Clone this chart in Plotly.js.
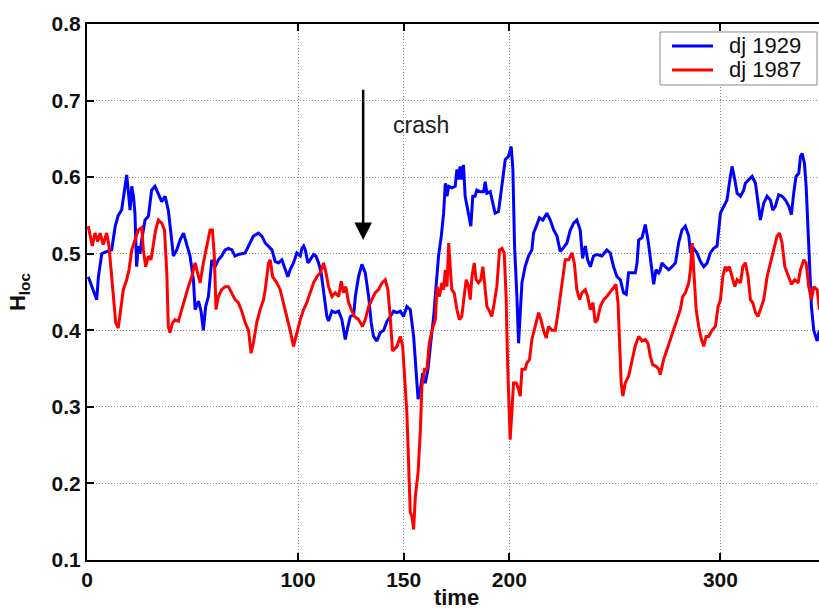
<!DOCTYPE html>
<html>
<head>
<meta charset="utf-8">
<script src="https://cdn.plot.ly/plotly-3.0.1.min.js"></script>
<style>
  html, body { margin: 0; padding: 0; background: #fff; overflow: hidden; }
  #chart { width: 830px; height: 610px; }
</style>
</head>
<body>
<div id="chart"></div>
<script>
// Local Hurst exponent of the Dow Jones index around the 1929 and 1987 crashes
const time1929 = [
  0.6, 4.6, 5.4, 7, 8.5, 11.7, 13.3, 14.8, 16.4, 17.2, 18.8, 19.6, 20.4, 21.2, 22, 22.7, 23.5, 24.3, 25.1, 25.9,
  27.5, 29.1, 30.6, 32.2, 33.8, 35.4, 37, 38.5, 40.1, 40.9, 42.5, 44.1, 45.7, 47.2, 48.8, 50.4, 51.2, 52.8, 54, 55.1,
  56.2, 57.5, 59.1, 60.7, 62.2, 63.8, 65.4, 67, 68.6, 70.1, 71.7, 74.9, 77.3, 78.8, 81.2, 82.8,
  84.4, 86, 87.6, 89.1, 90.7, 92.3, 93.9, 95.1, 96.2, 97.8, 99.4, 101, 101.8, 102.6, 103.4, 104.6, 105.7, 107.3, 108.4, 109.7,
  110.9, 112, 113.6, 114.4, 116, 117.6, 119.2, 120.7, 122.3, 123.6, 124.7, 126.3, 127.1, 128.6, 130.2, 131.8, 133.4, 134.6, 135.7, 137.3,
  138.9, 140.5, 142.1, 143.6, 145.2, 146.8, 148.4, 149.9, 151.5, 153.1, 154.7, 155.8, 156.8, 157.9, 159, 160.2, 161.5, 162.6, 164.2, 165.3,
  166.5, 167.8, 168.9, 169.7, 170.5, 171.3,
  172.8, 174.4, 175.2, 175.9, 176.7, 177.5, 178.3, 179.1, 180.7, 181.8, 182.7, 183.8, 184.6, 186.2, 187.8, 188.6, 189.4, 191, 192.2, 193.3,
  194.9, 196.5, 198.1, 199.6, 200.9, 201.7, 202.5, 203.6, 204.4, 205.2, 206, 207.5, 209.1, 210.7, 211.5, 212.8, 214.3, 215.9, 217.8, 219.4,
  221, 222.6, 224.1, 225.7, 227.3, 228.9, 230.5, 232, 233.6, 234.7, 236, 237.1, 238.4, 239.9, 241.5, 243.9, 246.2, 247.8, 249.4, 251,
  252.6, 254.1, 255.4, 256.5, 258.1,
  259.7, 260.5, 261.3, 262.9, 264.4, 265.7, 266.8, 268.4, 269.5, 270.8, 271.5, 272.3, 273.9, 275.5, 277.1, 278.7, 280.2, 281.8, 283.4, 285,
  285.8, 287.3, 288.9, 290.5, 292.1, 293.7, 295.2, 296.8, 298.4, 300, 301.6, 303.1, 304.7, 305.5, 306.8, 307.9, 309.5, 311, 311.8, 313.4,
  315, 316.6, 318.1, 318.9, 320.5, 322.1, 323.7, 324.8, 326, 327.6, 329.2, 330.8, 332.4, 333.6, 334.7, 335.8, 337.1, 337.9, 338.7, 339.8,
  340.6, 341.4, 342.2, 343.1, 344.2, 345.8, 346.9
];
const hloc1929 = [
  0.470, 0.440, 0.470, 0.500, 0.502, 0.505, 0.535, 0.550, 0.557, 0.575, 0.603, 0.580, 0.557, 0.588, 0.575, 0.553, 0.483, 0.510, 0.500, 0.518,
  0.544, 0.549, 0.583, 0.588, 0.579, 0.568, 0.575, 0.557, 0.518, 0.497, 0.505, 0.518, 0.527, 0.514, 0.497, 0.466, 0.427, 0.438, 0.425, 0.400,
  0.431, 0.444, 0.492, 0.483, 0.492, 0.497, 0.505, 0.507, 0.505, 0.497, 0.499, 0.501, 0.516, 0.523, 0.527, 0.523,
  0.514, 0.510, 0.505, 0.490, 0.488, 0.492, 0.479, 0.470, 0.479, 0.488, 0.501, 0.497, 0.507, 0.510, 0.505, 0.488, 0.492, 0.499, 0.497, 0.488,
  0.475, 0.449, 0.418, 0.412, 0.425, 0.423, 0.425, 0.414, 0.388, 0.405, 0.418, 0.420, 0.444, 0.470, 0.486, 0.475, 0.444, 0.410, 0.392, 0.386,
  0.397, 0.400, 0.412, 0.418, 0.425, 0.423, 0.425, 0.418, 0.431, 0.427, 0.392, 0.349, 0.310, 0.323, 0.344, 0.331, 0.349, 0.379, 0.418, 0.457,
  0.497, 0.523, 0.553, 0.592, 0.575, 0.588,
  0.586, 0.588, 0.610, 0.597, 0.614, 0.597, 0.616, 0.575, 0.553, 0.536, 0.575, 0.575, 0.583, 0.581, 0.581, 0.594, 0.579, 0.581, 0.566, 0.553,
  0.555, 0.592, 0.623, 0.627, 0.640, 0.610, 0.510, 0.444, 0.383, 0.423, 0.462, 0.483, 0.497, 0.505, 0.527, 0.536, 0.547, 0.544, 0.553, 0.544,
  0.531, 0.523, 0.503, 0.508, 0.514, 0.531, 0.540, 0.544, 0.531, 0.494, 0.510, 0.492, 0.483, 0.497, 0.499, 0.497, 0.505, 0.501, 0.483, 0.470,
  0.466, 0.449, 0.447, 0.475, 0.475,
  0.475, 0.488, 0.518, 0.521, 0.538, 0.518, 0.492, 0.460, 0.479, 0.475, 0.479, 0.488, 0.483, 0.479, 0.483, 0.488, 0.514, 0.531, 0.536, 0.523,
  0.501, 0.507, 0.501, 0.490, 0.483, 0.488, 0.501, 0.507, 0.510, 0.553, 0.562, 0.570, 0.601, 0.614, 0.597, 0.579, 0.575, 0.583, 0.592, 0.597,
  0.601, 0.592, 0.557, 0.544, 0.566, 0.575, 0.570, 0.557, 0.562, 0.577, 0.575, 0.570, 0.562, 0.551, 0.579, 0.601, 0.605, 0.627, 0.631, 0.618,
  0.588, 0.531, 0.475, 0.431, 0.400, 0.386, 0.400
];

const time1987 = [
  0.6, 1.4, 2.5, 3.8, 5.1, 6.2, 7.7, 9.3, 10.4, 11.4, 12.5, 13.6, 14.8, 16.1, 17.2, 18.8, 19.9, 21.2, 22.7, 24.3,
  25.9, 26.7, 27.8, 29.1, 30.3, 31.4, 32.5, 33.8, 35.4, 36.7, 37.8, 38.5, 39.3, 40.4, 41.7, 43.3, 44.9, 46.4, 48, 49.6,
  51.2, 52.8, 53.6, 55.1, 56.7, 58.3, 59.4, 60.3, 61.1, 62.2, 63.8, 65.4, 67, 68.6, 70.1, 71.7, 73.3, 74.9, 76.5, 77.7,
  78.8, 80.4, 82, 83.6,
  84.4, 86, 86.8, 87.9, 89.9, 91.5, 93.1, 94.7, 96.2, 97.8, 99.4, 101, 102.6, 104.1, 105.7, 107.3, 108.9, 110.5, 112, 113.2,
  114.4, 116, 117.6, 119.2, 120.4, 121.5, 122.6, 123.9, 125.2, 126.7, 128.6, 130.5, 131.8, 133.4, 134.9, 136.5, 138.1, 139.7, 141.3, 142.5,
  143.6, 144.7, 146.8, 148.4, 149.5, 150.4, 151.5, 152.3, 153.1, 153.9, 154.7, 155.5, 156.8, 157.9, 158.6, 159.9, 161, 162.1, 163.4, 165,
  165.8, 166.9, 168.1, 168.9, 169.7, 170.5, 171.3, 172.1, 172.8,
  173.9, 175.2, 176.4, 177.5, 178.6, 179.6, 180.7, 181.5, 182.3, 183.4, 184.3, 185.4, 186.5, 187.5, 188.6, 189.4, 190.6, 191.7, 192.9, 194.1,
  195.4, 196.5, 197.6, 198.5, 199.2, 199.8, 200.4, 201.2, 202, 203.3, 204.4, 205.2, 206, 207.5, 208.3, 209.6, 210.7, 211.8, 213.1, 213.9,
  215, 216.2, 217.5, 218.6, 220.2, 221.8, 223.3, 224.9, 226.5, 228.1, 229.7, 230.8, 232, 233.3, 234.4, 236, 237.1, 238.4, 239.6, 240.7,
  241.8, 243.1, 244.7, 246.2, 247.5, 249.1, 250.5, 251.5, 252.3, 253, 253.8, 254.9, 256.5, 258.1,
  259.7, 261.3, 262.9, 264.4, 265.7, 266.8, 267.9, 269.5, 270.8, 271.5, 273.1, 274.7, 276.3, 277.9, 279.4, 281, 282.1, 283.4, 285, 285.8,
  286.6, 287.3, 288.5, 289.7, 291, 292.1, 293.2, 294.5, 296, 297.6, 298.9, 300, 301.1, 302.3, 303.1, 304.2, 305.5, 306.8, 307.9, 309.5,
  310.6, 311.8, 313.1, 314.2, 315.3, 316.6, 317.8, 318.9, 320.5, 322.1, 323.7, 325.3, 326.8, 328, 329.2, 330.5, 332.1, 333.6, 335.2, 336.8,
  337.9, 339.5, 340.6, 341.8, 343.1, 344.2, 345.8, 346.9
];
const hloc1987 = [
  0.536, 0.523, 0.510, 0.527, 0.516, 0.527, 0.512, 0.527, 0.510, 0.479, 0.440, 0.410, 0.403, 0.427, 0.453, 0.466, 0.479, 0.505, 0.518, 0.531,
  0.534, 0.505, 0.483, 0.497, 0.492, 0.514, 0.531, 0.544, 0.540, 0.531, 0.475, 0.405, 0.397, 0.409, 0.414, 0.412, 0.427, 0.444, 0.457, 0.470,
  0.488, 0.470, 0.462, 0.488, 0.510, 0.531, 0.531, 0.497, 0.427, 0.444, 0.453, 0.457, 0.457, 0.449, 0.440, 0.436, 0.425, 0.410, 0.400, 0.370,
  0.383, 0.410, 0.427, 0.440,
  0.453, 0.488, 0.492, 0.470, 0.462, 0.453, 0.436, 0.418, 0.400, 0.379, 0.397, 0.414, 0.427, 0.436, 0.449, 0.462, 0.470, 0.475, 0.488, 0.475,
  0.457, 0.444, 0.449, 0.444, 0.464, 0.449, 0.457, 0.436, 0.427, 0.418, 0.414, 0.405, 0.414, 0.431, 0.440, 0.449, 0.453, 0.462, 0.466, 0.453,
  0.418, 0.373, 0.379, 0.392, 0.379, 0.344, 0.292, 0.227, 0.162, 0.157, 0.140, 0.183, 0.214, 0.270, 0.327, 0.349, 0.349, 0.383, 0.400, 0.414,
  0.457, 0.444, 0.462, 0.453, 0.479, 0.457, 0.514, 0.479, 0.453,
  0.449, 0.427, 0.414, 0.418, 0.444, 0.466, 0.457, 0.440, 0.470, 0.488, 0.466, 0.462, 0.466, 0.483, 0.453, 0.431, 0.425, 0.418, 0.436, 0.457,
  0.505, 0.507, 0.501, 0.444, 0.357, 0.288, 0.257, 0.292, 0.331, 0.331, 0.323, 0.314, 0.349, 0.349, 0.357, 0.362, 0.388, 0.400, 0.414, 0.423,
  0.414, 0.400, 0.390, 0.405, 0.400, 0.400, 0.427, 0.457, 0.492, 0.492, 0.501, 0.488, 0.453, 0.440, 0.449, 0.453, 0.444, 0.427, 0.436, 0.410,
  0.414, 0.431, 0.440, 0.444, 0.449, 0.455, 0.460, 0.436, 0.379, 0.331, 0.314, 0.331, 0.340, 0.362,
  0.380, 0.392, 0.386, 0.388, 0.383, 0.366, 0.355, 0.353, 0.349, 0.342, 0.362, 0.375, 0.388, 0.400, 0.414, 0.427, 0.444, 0.449, 0.462, 0.479,
  0.514, 0.479, 0.427, 0.405, 0.388, 0.379, 0.392, 0.392, 0.400, 0.405, 0.431, 0.440, 0.470, 0.483, 0.479, 0.483, 0.470, 0.457, 0.466, 0.462,
  0.483, 0.488, 0.470, 0.440, 0.436, 0.423, 0.418, 0.427, 0.440, 0.470, 0.488, 0.505, 0.523, 0.527, 0.514, 0.483, 0.470, 0.460, 0.466, 0.462,
  0.479, 0.492, 0.488, 0.457, 0.440, 0.457, 0.453, 0.427
];

const seriesNames = ['dj 1929', 'dj 1987'];
const seriesColors = ['#0000ff', '#ff0000'];
const xTickVals = [0, 100, 150, 200, 300];
const yTickVals = [0.1, 0.2, 0.3, 0.4, 0.5, 0.6, 0.7, 0.8];
const yTickText = ['0.1', '0.2', '0.3', '0.4', '0.5', '0.6', '0.7', '0.8'];

// crash marker: arrow from its tail value down to its head value at the crash time
const crashTime = 130.8;
const crashArrowTail = 0.716;
const crashArrowHead = 0.518;
const crashLabel = 'crash';
const crashLabelTime = 158.3;
const crashLabelValue = 0.668;

const FONT = 'Liberation Sans, Arial, Helvetica, sans-serif';

const traces = [
  { x: time1929, y: hloc1929, name: seriesNames[0], type: 'scatter', mode: 'lines',
    line: { color: seriesColors[0], width: 3 } },
  { x: time1987, y: hloc1987, name: seriesNames[1], type: 'scatter', mode: 'lines',
    line: { color: seriesColors[1], width: 3 } }
];

// Boxed key in the upper-right corner (paper coordinates of the plot area)
const key = { x0: 0.7754, x1: 0.9878, y0: 0.8862, y1: 0.9851,
              lineX0: 0.7916, lineX1: 0.8471, textX: 0.8660, rowY: [0.9590, 0.9142] };
const keyShapes = [
  { type: 'rect', xref: 'paper', yref: 'paper', x0: key.x0, x1: key.x1, y0: key.y0, y1: key.y1,
    line: { color: '#8a8a8a', width: 1 }, fillcolor: '#fff', layer: 'above' }
];
const keyLabels = [];
seriesNames.forEach(function (name, i) {
  keyShapes.push({ type: 'line', xref: 'paper', yref: 'paper',
    x0: key.lineX0, x1: key.lineX1, y0: key.rowY[i], y1: key.rowY[i],
    line: { color: seriesColors[i], width: 3 }, layer: 'above' });
  keyLabels.push({ xref: 'paper', yref: 'paper', x: key.textX, y: key.rowY[i],
    xanchor: 'left', yanchor: 'middle', text: name, showarrow: false,
    font: { family: FONT, size: 22, color: '#111' } });
});

const axisCommon = {
  showline: true, linecolor: '#000', linewidth: 2, mirror: 'ticks',
  ticks: 'inside', ticklen: 7, tickwidth: 2, tickcolor: '#000',
  showgrid: true, gridcolor: '#8a8a8a', gridwidth: 1, griddash: '1px,2px',
  zeroline: false, fixedrange: true
};

const layout = {
  width: 830, height: 610,
  margin: { l: 87, r: 4, t: 24, b: 50 },
  paper_bgcolor: '#fff', plot_bgcolor: '#fff',
  font: { family: FONT, color: '#111' },
  showlegend: false,
  xaxis: Object.assign({}, axisCommon, {
    range: [0, 350],
    tickmode: 'array', tickvals: xTickVals,
    tickfont: { family: FONT, size: 21, weight: 'bold', color: '#111' },
    title: { text: 'time', font: { family: FONT, size: 22, weight: 'bold', color: '#111' }, standoff: 7 }
  }),
  yaxis: Object.assign({}, axisCommon, {
    range: [0.1, 0.8],
    tickmode: 'array', tickvals: yTickVals, ticktext: yTickText,
    tickfont: { family: FONT, size: 21, weight: 'bold', color: '#111' },
    title: { text: 'H<sub>loc</sub>', font: { family: FONT, size: 22, weight: 'bold', color: '#111' }, standoff: 20 }
  }),
  shapes: keyShapes,
  annotations: [
    { x: crashTime, y: crashArrowHead, ax: crashTime, ay: crashArrowTail,
      xref: 'x', yref: 'y', axref: 'x', ayref: 'y',
      text: '', showarrow: true, arrowhead: 2, arrowsize: 1.4, arrowwidth: 2.5, arrowcolor: '#000', standoff: 0 },
    { x: crashLabelTime, y: crashLabelValue, xref: 'x', yref: 'y',
      text: crashLabel, showarrow: false,
      font: { family: FONT, size: 23, color: '#222' } }
  ].concat(keyLabels)
};

Plotly.newPlot('chart', traces, layout, { displayModeBar: false, staticPlot: true });
</script>
</body>
</html>
